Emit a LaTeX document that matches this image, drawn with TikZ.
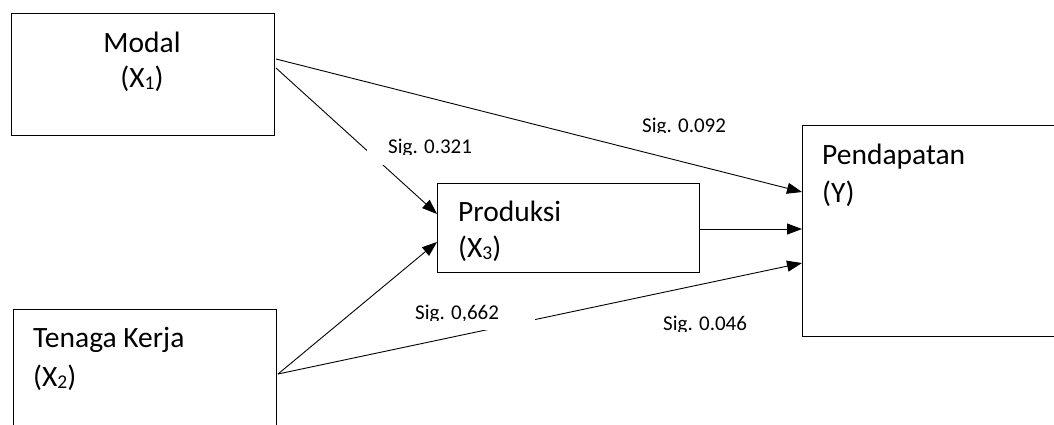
\documentclass[tikz,border=0pt]{standalone}
\usepackage{fontspec}
\setmainfont{Carlito}
\usetikzlibrary{arrows.meta,calc}
\newcommand{\mysub}[1]{\raisebox{-2pt}{\fontsize{19.5}{22}\selectfont #1}}
\begin{document}
\begin{tikzpicture}[x=1pt,y=-1pt,
  box/.style={draw, line width=1pt, inner sep=0pt, anchor=north west},
  txt/.style={inner sep=0pt, anchor=base west, font=\fontsize{29.5}{35}\selectfont},
  lbl/.style={inner sep=0pt, anchor=base west, font=\fontsize{21}{25}\selectfont},
  cover/.style={fill=white, draw=none, inner sep=0pt, anchor=north west},
  arr/.style={line width=0.9pt, -{Triangle[length=15pt,width=11pt]}}]
\useasboundingbox (0,0) rectangle (1054,424);
% boxes
\node[box, minimum width=263pt, minimum height=122pt] (modal) at (11,13) {};
\node[box, minimum width=263pt, minimum height=160pt] (tenaga) at (13,309) {};
\node[box, minimum width=262pt, minimum height=89pt] (prod) at (437,183) {};
\node[box, minimum width=330pt, minimum height=211pt] (pend) at (802,125) {};
% box texts
\node[txt, anchor=base] (tmodal) at (142,52) {Modal};
\node[txt, anchor=base] (tx1) at (142,87) {(X\mysub{1})};
\node[txt] (ttenaga) at (33,347) {Tenaga Kerja};
\node[txt] (tx2) at (33,386) {(X\mysub{2})};
\node[txt] (tprod) at (458,221) {Produksi};
\node[txt] (tx3) at (458,257) {(X\mysub{3})};
\node[txt] (tpend) at (822,164) {Pendapatan};
\node[txt] (ty) at (822,202) {(Y)};
% connectors
\draw[arr] ($(modal.north east)+(1,46)$) -- ($(pend.north west)+(0,67)$);
\draw[arr] ($(modal.north east)+(1,55)$) -- ($(prod.north west)+(0,31)$);
\draw[arr] ($(tenaga.north east)+(1,65)$) -- ($(prod.north west)+(0,59)$);
\draw[arr] ($(tenaga.north east)+(1,65)$) -- ($(pend.north west)+(0,138)$);
\draw[arr] ($(prod.north east)+(0,46)$) -- ($(pend.north west)+(0,104)$);
% label covers
\node[cover, minimum width=113pt, minimum height=37pt] (c321) at (367,128) {};
\node[cover, minimum width=135pt, minimum height=32pt] (c662) at (400,298) {};
% labels (clipped at their text box bottom)
\begin{scope}
\clip (600,100) rectangle (760,132);
\node[lbl] (l092) at (642,132) {Sig. 0.092};
\end{scope}
\begin{scope}
\clip (367,120) rectangle (480,154);
\node[lbl] (l321) at (388,153) {Sig. 0.321};
\end{scope}
\begin{scope}
\clip (400,290) rectangle (535,320);
\node[lbl] (l662) at (415,319) {Sig. 0,662};
\end{scope}
\begin{scope}
\clip (640,300) rectangle (760,331);
\node[lbl] (l046) at (663,330) {Sig. 0.046};
\end{scope}
\end{tikzpicture}
\end{document}
